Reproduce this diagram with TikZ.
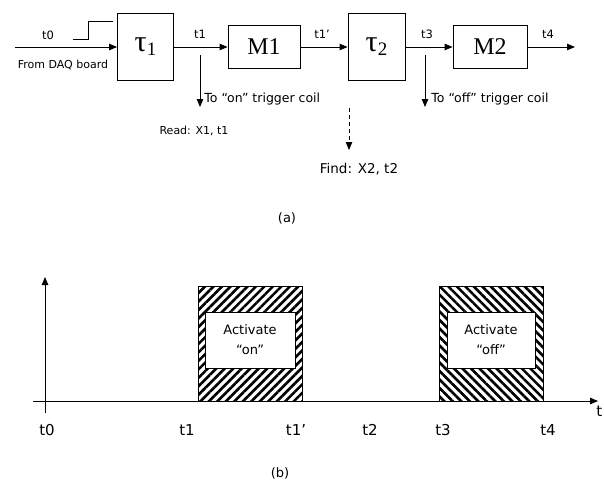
\documentclass[tikz,border=0pt]{standalone}
\usepackage{fontspec}
\setmainfont{DejaVu Sans}
\newfontfamily\serifb{Liberation Serif}
\usetikzlibrary{arrows.meta,patterns.meta}
\newcommand{\taulbl}[1]{{\serifb\fontsize{30}{30}\selectfont τ\raisebox{-4pt}{\fontsize{19}{20}\selectfont #1}}}
\begin{document}
\begin{tikzpicture}[x=1pt,y=-1pt,line width=0.9pt,
  arr/.style={-{Triangle[length=8pt,width=6.5pt]}},
  blk/.style={draw,inner sep=0pt,minimum height=67pt,minimum width=56pt},
  mblk/.style={draw,inner sep=0pt,minimum height=43pt,minimum width=73pt,font=\serifb\fontsize{24}{26}\selectfont},
  lbl/.style={font=\fontsize{11.5}{13}\selectfont,inner sep=0pt},
  tlbl/.style={font=\fontsize{12.5}{14}\selectfont,inner sep=0pt,anchor=west},
  blbl/.style={font=\fontsize{15}{17}\selectfont,inner sep=0pt},
  captext/.style={font=\fontsize{13}{15}\selectfont,inner sep=0pt},
  act/.style={draw,fill=white,line width=0.9pt,inner sep=0pt,minimum height=56pt,align=center,font=\fontsize{13}{20}\selectfont},
  hatchA/.style={pattern={Lines[angle=45,distance=6pt,line width=2.6pt]}},
  hatchB/.style={pattern={Lines[angle=-45,distance=6pt,line width=2.6pt]}}]
\useasboundingbox (0,0) rectangle (604,483);
% ---- part (a)
\node[blk] (tau1) at (145.5,47) {\taulbl{1}};
\node[mblk,minimum width=72pt] (m1) at (264,47) {M1};
\node[blk,minimum width=57pt] (tau2) at (376.5,47) {\taulbl{2}};
\node[mblk,minimum width=74pt] (m2) at (490,47) {M2};
\coordinate (in) at (15,47);
\coordinate (out) at (575,47);
\draw[arr] (in) -- (tau1.west);
\draw[arr] (tau1.east) -- (m1.west);
\draw[arr] (m1.east) -- (tau2.west);
\draw[arr] (tau2.east) -- (m2.west);
\draw[arr] (m2.east) -- (out);
\draw[line width=0.8pt] (73,39) -- (88,39) -- (88,21) -- (113,21);
\node[lbl] (lt0) at (48,35) {t0};
\node[lbl,font=\fontsize{11}{13}\selectfont] (ldaq) at (63,65) {From DAQ board};
\node[lbl] (lt1) at (200,34) {t1};
\node[lbl] (lt1p) at (322,34) {t1’};
\node[lbl] (lt3) at (427,34) {t3};
\node[lbl] (lt4) at (548,34) {t4};
\coordinate (d1s) at (200,55);
\coordinate (d1e) at (200,107);
\coordinate (d2s) at (425,55);
\coordinate (d2e) at (425,107);
\coordinate (d3s) at (349,108);
\coordinate (d3e) at (349,150);
\draw[arr] (d1s) -- (d1e);
\draw[arr] (d2s) -- (d2e);
\draw[arr,dashed,dash pattern=on 4pt off 3pt] (d3s) -- (d3e);
\node[tlbl] (on) at (204,99) {To “on” trigger coil};
\node[tlbl] (off) at (431,99) {To “off” trigger coil};
\node[lbl,font=\fontsize{11}{13}\selectfont] (read) at (194,131) {Read: X1, t1};
\node[lbl,font=\fontsize{13.5}{15}\selectfont] (find) at (359,169) {Find: X2, t2};
\node[captext] (capa) at (287,218) {(a)};
% ---- part (b)
\fill[hatchA] (198,286) rectangle (302,401);
\draw (198,401) -- (198,286) -- (302,286) -- (302,401);
\fill[hatchB] (439,286) rectangle (543,401);
\draw (439,401) -- (439,286) -- (543,286) -- (543,401);
\node[act,minimum width=90pt] (aon) at (250,340) {Activate\\“on”};
\node[act,minimum width=88pt] (aoff) at (491,340) {Activate\\“off”};
\coordinate (ybot) at (45,413);
\coordinate (ytop) at (45,277);
\coordinate (xl) at (33,401);
\coordinate (xr) at (598,401);
\draw[arr] (ybot) -- (ytop);
\draw[arr] (xl) -- (xr);
\node[blbl] (bt0) at (47,430) {t0};
\node[blbl] (bt1) at (187,430) {t1};
\node[blbl] (bt1p) at (296,430) {t1’};
\node[blbl] (bt2) at (370,430) {t2};
\node[blbl] (bt3) at (443,430) {t3};
\node[blbl] (bt4) at (548,430) {t4};
\node[blbl,anchor=west] (bt) at (596,411) {t};
\node[captext] (capb) at (280,473) {(b)};
\end{tikzpicture}
\end{document}
